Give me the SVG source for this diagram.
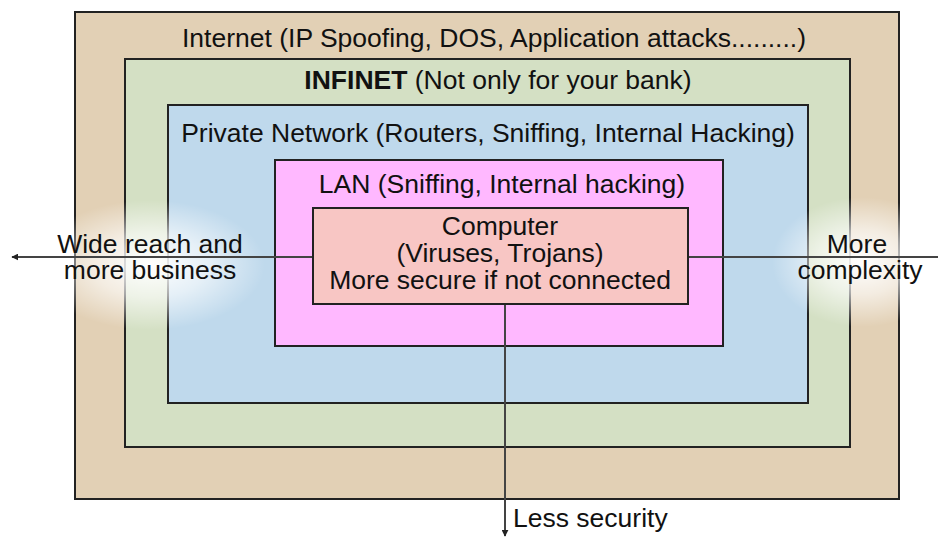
<svg xmlns="http://www.w3.org/2000/svg" width="938" height="537" viewBox="0 0 938 537">
  <defs>
    <style>
      .box { stroke: #222; stroke-width: 2; }
      .lbl { font-family: "Liberation Sans", Arial, sans-serif; font-size: 26.5px; fill: #111; }
      .mid { text-anchor: middle; }
      .conn { stroke: #444; stroke-width: 2; fill: none; }
    </style>
    <radialGradient id="glow">
      <stop offset="0" stop-color="#ffffff" stop-opacity="1"/>
      <stop offset="0.5" stop-color="#ffffff" stop-opacity="0.6"/>
      <stop offset="1" stop-color="#ffffff" stop-opacity="0"/>
    </radialGradient>
    <marker id="arrow" viewBox="0 0 10 10" refX="9" refY="5" markerWidth="7" markerHeight="7" orient="auto" markerUnits="userSpaceOnUse">
      <path d="M0,0 L10,5 L0,10 z" fill="#222"/>
    </marker>
  </defs>

  <rect width="938" height="537" fill="#ffffff"/>

  <!-- nested zones, outermost first -->
  <g id="internet">
    <rect class="box" x="75" y="12" width="824" height="487" fill="#e2d0b5"/>
    <text class="lbl mid" x="494" y="47">Internet (IP Spoofing, DOS, Application attacks.........)</text>
  </g>
  <g id="infinet">
    <rect class="box" x="125" y="59" width="725" height="388" fill="#d4e0c4"/>
    <text class="lbl mid" x="498" y="89"><tspan font-weight="bold">INFINET</tspan> (Not only for your bank)</text>
  </g>
  <g id="private-network">
    <rect class="box" x="168" y="105" width="640" height="298" fill="#bfd9ec"/>
    <text class="lbl mid" x="488" y="142">Private Network (Routers, Sniffing, Internal Hacking)</text>
  </g>

  <!-- soft highlights behind the side labels -->
  <ellipse cx="150" cy="265" rx="115" ry="65" fill="url(#glow)"/>
  <ellipse cx="862" cy="262" rx="90" ry="65" fill="url(#glow)"/>

  <g id="lan">
    <rect class="box" x="275" y="160" width="448" height="186" fill="#ffb8ff"/>
    <text class="lbl mid" x="502" y="193">LAN (Sniffing, Internal hacking)</text>
  </g>

  <!-- trade-off axes -->
  <g id="connectors">
    <line class="conn" x1="313" y1="257" x2="12" y2="257" marker-end="url(#arrow)"/>
    <line class="conn" x1="688" y1="257" x2="938" y2="257"/>
    <line class="conn" x1="505" y1="304" x2="505" y2="536" marker-end="url(#arrow)"/>
  </g>

  <g id="computer">
    <rect class="box" x="313" y="208" width="375" height="96" fill="#f8c6c4"/>
    <text class="lbl mid" x="500" y="235">Computer</text>
    <text class="lbl mid" x="500" y="262">(Viruses, Trojans)</text>
    <text class="lbl mid" x="500" y="289">More secure if not connected</text>
  </g>

  <g id="labels">
    <text class="lbl mid" x="150" y="253">Wide reach and</text>
    <text class="lbl mid" x="150" y="279">more business</text>
    <text class="lbl mid" x="857" y="253">More</text>
    <text class="lbl mid" x="860" y="279">complexity</text>
    <text class="lbl" x="513" y="527">Less security</text>
  </g>
</svg>
